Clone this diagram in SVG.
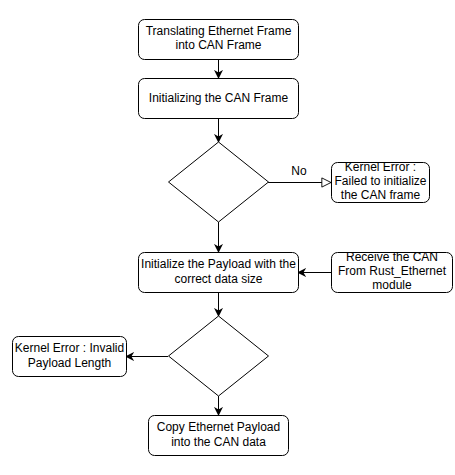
<svg xmlns="http://www.w3.org/2000/svg" width="455" height="475" viewBox="0 0 455 475">
<style>
.n{fill:#fff;stroke:#000;stroke-width:1}
.t{font-family:"Liberation Sans",Arial,sans-serif;font-size:12px;fill:#000;text-anchor:middle}
.c{fill:none;stroke:#000;stroke-width:1}
</style>
<defs>
<marker id="a" viewBox="0 0 10 10" refX="9" refY="5" markerWidth="9" markerHeight="9" markerUnits="userSpaceOnUse" orient="auto">
<path d="M0,0 L10,5 L0,10 L3,5 Z" fill="#000"/>
</marker>
<marker id="o" viewBox="0 0 12 12" refX="11" refY="6" markerWidth="11" markerHeight="11" markerUnits="userSpaceOnUse" orient="auto">
<path d="M1,1 L11,6 L1,11 Z" fill="#fff" stroke="#000" stroke-width="1"/>
</marker>
</defs>
<rect width="455" height="475" fill="#fff"/>
<g id="connectors">
<line class="c" x1="218.5" y1="59" x2="218.5" y2="78" marker-end="url(#a)"/>
<line class="c" x1="218.5" y1="118" x2="218.5" y2="142" marker-end="url(#a)"/>
<line class="c" x1="268" y1="182.5" x2="331" y2="182.5" marker-end="url(#o)"/>
<text class="t" x="299" y="175">No</text>
<line class="c" x1="218.5" y1="222" x2="218.5" y2="252" marker-end="url(#a)"/>
<line class="c" x1="331" y1="272.5" x2="298" y2="272.5" marker-end="url(#a)"/>
<line class="c" x1="218.5" y1="292" x2="218.5" y2="316" marker-end="url(#a)"/>
<line class="c" x1="168" y1="356.5" x2="126" y2="356.5" marker-end="url(#a)"/>
<line class="c" x1="218.5" y1="396" x2="218.5" y2="415" marker-end="url(#a)"/>
</g>
<g id="n1"><rect class="n" x="138.5" y="19.5" width="160" height="40" rx="6"/><text class="t" x="218.5" y="35">Translating Ethernet Frame</text><text class="t" x="218.5" y="49">into CAN Frame</text></g>
<g id="n2"><rect class="n" x="138.5" y="78.5" width="160" height="40" rx="6"/><text class="t" x="218.5" y="102">Initializing the CAN Frame</text></g>
<g id="d1"><path class="n" d="M218.5,142 L268.5,182 L218.5,222 L168.5,182 Z"/></g>
<g id="e1"><rect class="n" x="331.5" y="162.5" width="98" height="40" rx="6"/><text class="t" x="380.5" y="171">Kernel Error :</text><text class="t" x="380.5" y="185">Failed to initialize</text><text class="t" x="380.5" y="199">the CAN frame</text></g>
<g id="n3"><rect class="n" x="138.5" y="252.5" width="160" height="40" rx="6"/><text class="t" x="218.5" y="268">Initialize the Payload with the</text><text class="t" x="218.5" y="283">correct data size</text></g>
<g id="r1"><rect class="n" x="331.5" y="252.5" width="121" height="40" rx="6"/><text class="t" x="392" y="261">Receive the CAN</text><text class="t" x="392" y="275">From Rust_Ethernet</text><text class="t" x="392" y="289">module</text></g>
<g id="d2"><path class="n" d="M218.5,316 L268.5,356 L218.5,396 L168.5,356 Z"/></g>
<g id="e2"><rect class="n" x="12.5" y="336.5" width="114" height="40" rx="6"/><text class="t" x="69.5" y="352">Kernel Error : Invalid</text><text class="t" x="69.5" y="367">Payload Length</text></g>
<g id="n4"><rect class="n" x="148.5" y="415.5" width="140" height="40" rx="6"/><text class="t" x="218.5" y="431">Copy Ethernet Payload</text><text class="t" x="218.5" y="446">into the CAN data</text></g>
</svg>
